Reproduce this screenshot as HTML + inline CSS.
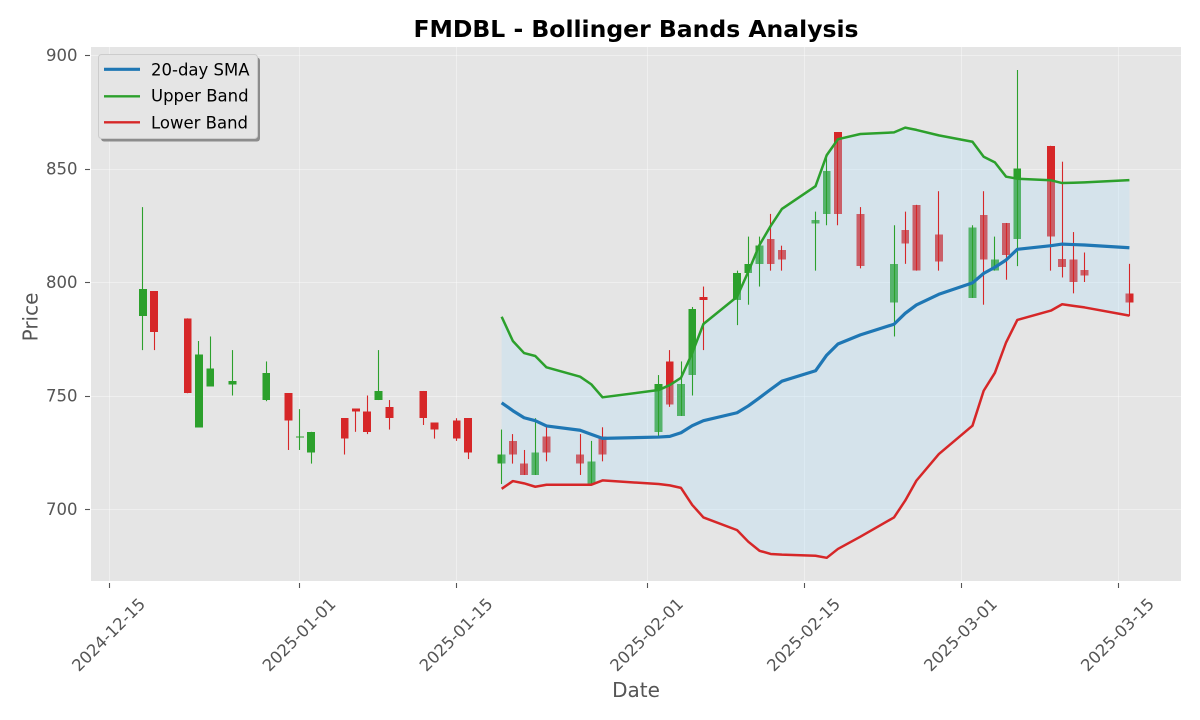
<!DOCTYPE html>
<html lang="en">
<head>
<meta charset="utf-8">
<title>FMDBL - Bollinger Bands Analysis</title>
<style>
html,body{margin:0;padding:0;background:#fff;}
svg{display:block;}
text{font-family:"DejaVu Sans",sans-serif;}
</style>
</head>
<body>
<svg id="chart" xmlns="http://www.w3.org/2000/svg" width="1200" height="720" viewBox="0 0 1200 720">
  <rect x="0" y="0" width="1200" height="720" fill="#ffffff"/>
  <rect x="91" y="47" width="1090" height="534" fill="#e5e5e5"/>
  <g id="grid"></g>
  <g id="bodies"></g>
  <path id="band" fill="rgb(177,222,250)" fill-opacity="0.31" stroke="none"/>
  <g id="wicks"></g>
  <g id="lines"></g>
  <g id="ticks"></g>
  <text x="636" y="37" text-anchor="middle" font-size="23.5" font-weight="bold" fill="#000000">FMDBL - Bollinger Bands Analysis</text>
  <text x="636" y="697" text-anchor="middle" font-size="20" fill="#555555">Date</text>
  <text transform="translate(37.5,317) rotate(-90)" text-anchor="middle" font-size="20" fill="#555555">Price</text>
  <g>
    <rect x="101" y="57.5" width="159" height="84" rx="3" fill="#8c8c8c"/>
    <rect x="98.5" y="54.5" width="159" height="84" rx="3" fill="#e5e5e5" stroke="#cccccc" stroke-width="1"/>
    <line x1="104" y1="69.3" x2="140" y2="69.3" stroke="#1f77b4" stroke-width="3.1"/>
    <text x="151" y="75.5" font-size="16.5" fill="#000000">20-day SMA</text>
    <line x1="104" y1="96.3" x2="140" y2="96.3" stroke="#2ca02c" stroke-width="2.4"/>
    <text x="151" y="101.5" font-size="16.5" fill="#000000">Upper Band</text>
    <line x1="104" y1="122.3" x2="140" y2="122.3" stroke="#d62728" stroke-width="2.4"/>
    <text x="151" y="128.5" font-size="16.5" fill="#000000">Lower Band</text>
  </g>
</svg>
<script>
const dates = ['2024-12-18','2024-12-19','2024-12-22','2024-12-23','2024-12-24','2024-12-26','2024-12-29','2024-12-31','2025-01-01','2025-01-02','2025-01-05','2025-01-06','2025-01-07','2025-01-08','2025-01-09','2025-01-12','2025-01-13','2025-01-15','2025-01-16','2025-01-19','2025-01-20','2025-01-21','2025-01-22','2025-01-23','2025-01-26','2025-01-27','2025-01-28','2025-02-02','2025-02-03','2025-02-04','2025-02-05','2025-02-06','2025-02-09','2025-02-10','2025-02-11','2025-02-12','2025-02-13','2025-02-16','2025-02-17','2025-02-18','2025-02-20','2025-02-23','2025-02-24','2025-02-25','2025-02-27','2025-03-02','2025-03-03','2025-03-04','2025-03-05','2025-03-06','2025-03-09','2025-03-10','2025-03-11','2025-03-12','2025-03-16'];
const opens = [785,796,784,736,754,754.8,748,751,732,725,740,744.2,743,748,745,752,738,739,740,720,730,720,715,732,724,711,732,734,765,741,759,793.4,792,804,808,819,814,825.8,830,866,830,791,823,834,821,793,829.5,805,826,819,860,810.1,810,805.3,795];
const highs = [833,796,784,774,776,770,765,751,744,734,740,744.2,750,770,748,752,738,740,740,735,733,726,740,736,733,730,736,759,770,765,789,798,805,820,820,830,816,831,855.5,866,833,825,831,834,840,825,840,820,826,893.4,860,853,822,813,808];
const lows = [770,770,751,736,754,750,747.5,726,726,720,724,734,733,748,735,737,731,730,722,711,720,715,715,721,715,711,721,732,745,741,750,770,781,790,798,805,805,805,825,825,806,776,808,805,805,793,790,805,801,807,805,802,795,800,785];
const closes = [797,778,751,768,762,756.4,760,739,732,734,731,742.9,734,752,740,740,735,731,725,724,724,715,725,725,720,721,724,755,746,755,788,792,804,808,816,808,810,827.3,849,830,807,808,817,805,809,824,810,810,812,850,820,806.7,800,802.9,791];

const bandDates = ['2025-01-19','2025-01-20','2025-01-21','2025-01-22','2025-01-23','2025-01-26','2025-01-27','2025-01-28','2025-02-02','2025-02-03','2025-02-04','2025-02-05','2025-02-06','2025-02-09','2025-02-10','2025-02-11','2025-02-12','2025-02-13','2025-02-16','2025-02-17','2025-02-18','2025-02-20','2025-02-23','2025-02-24','2025-02-25','2025-02-27','2025-03-02','2025-03-03','2025-03-04','2025-03-05','2025-03-06','2025-03-09','2025-03-10','2025-03-11','2025-03-12','2025-03-16'];
const smaValues = [746.8,743.3,740.2,738.9,736.6,734.7,732.9,731.1,731.7,732.0,733.6,736.7,738.9,742.4,745.4,749.0,752.7,756.3,760.9,767.8,772.7,776.7,781.4,786.2,789.9,794.6,799.6,803.8,806.5,809.7,814.4,816.0,816.7,816.5,816.3,815.1];
const upperValues = [784.7,774.0,768.7,767.4,762.4,758.3,754.9,749.2,752.4,754.6,757.8,768.7,781.5,793.5,804.5,816.3,824.7,832.2,842.2,855.9,862.9,865.2,865.9,868.0,867.0,864.6,861.8,855.2,852.7,846.4,845.5,844.8,843.6,843.7,843.9,844.9];
const lowerValues = [708.9,712.3,711.3,709.8,710.7,710.7,710.7,712.6,711.0,710.4,709.3,701.8,696.3,690.7,685.6,681.6,680.2,679.9,679.4,678.5,682.4,687.8,696.3,703.7,712.5,724.2,736.7,752.1,760.0,773.4,783.3,787.4,790.2,789.5,788.8,785.2];

const xTickLabels = ['2024-12-15','2025-01-01','2025-01-15','2025-02-01','2025-02-15','2025-03-01','2025-03-15'];
const yTickLabels = [700,750,800,850,900];

const NS = 'http://www.w3.org/2000/svg';
const DAY = 86400000;
const origin = Date.parse('2024-12-15T00:00:00Z');
function xScale(dateStr) {
  const days = (Date.parse(dateStr + 'T00:00:00Z') - origin) / DAY;
  return 109.3 + days * 11.21;
}
function yScale(value) {
  return 509 - (value - 700) * 2.27;
}
function mk(tag, attrs, parent) {
  const node = document.createElementNS(NS, tag);
  for (const key in attrs) node.setAttribute(key, attrs[key]);
  parent.appendChild(node);
  return node;
}
function pathFor(xs, ys) {
  return xs.map((d, i) => (i ? 'L' : 'M') + xScale(d).toFixed(2) + ' ' + yScale(ys[i]).toFixed(2)).join(' ');
}

const gridG = document.getElementById('grid');
const ticksG = document.getElementById('ticks');
yTickLabels.forEach(function (v) {
  const y = Math.round(yScale(v)) + 0.5;
  const g = mk('line', {x1: 91, x2: 1181, y1: y, y2: y, stroke: '#ffffff', 'stroke-opacity': 0.4, 'stroke-width': 1}, gridG);
  
  
  const t = mk('line', {x1: 85, x2: 90, y1: y, y2: y, stroke: '#555555', 'stroke-width': 1.1}, ticksG);
  
  
  const l = mk('text', {x: 77.5, y: yScale(v) + 6, 'text-anchor': 'end', 'font-size': 16.5, fill: '#555555'}, ticksG);
  l.textContent = String(v);
  
  
});
xTickLabels.forEach(function (d) {
  const cx = xScale(d);
  const x = Math.floor(cx) + 0.5;
  const g = mk('line', {x1: x, x2: x, y1: 47, y2: 581, stroke: '#ffffff', 'stroke-opacity': 0.4, 'stroke-width': 1}, gridG);
  
  
  const t = mk('line', {x1: x, x2: x, y1: 583, y2: 588, stroke: '#555555', 'stroke-width': 1.1}, ticksG);
  
  
  const l = mk('text', {transform: 'translate(' + (cx - 1).toFixed(2) + ',634.5) rotate(-45)', y: 6, 'text-anchor': 'middle', 'font-size': 16.4, fill: '#555555'}, ticksG);
  l.textContent = d;
  
  
});

const bodiesG = document.getElementById('bodies');
const wicksG = document.getElementById('wicks');
dates.forEach(function (d, i) {
  const up = closes[i] >= opens[i];
  const color = up ? '#2ca02c' : '#d62728';
  const cx = xScale(d);
  const top = yScale(Math.max(opens[i], closes[i]));
  const bottom = yScale(Math.min(opens[i], closes[i]));
  const body = mk('rect', {x: (cx - 3.92).toFixed(2), y: top.toFixed(2), width: 7.85, height: Math.max(bottom - top, 1).toFixed(2), fill: color, 'shape-rendering': 'crispEdges'}, bodiesG);
  
  
  const wx = Math.floor(cx) + 0.5;
  const wick = mk('line', {x1: wx, x2: wx, y1: yScale(highs[i]).toFixed(2), y2: yScale(lows[i]).toFixed(2), stroke: color, 'stroke-width': 1.1}, wicksG);
  
  
});

const bandTop = pathFor(bandDates, upperValues);
const bandBottom = bandDates.slice().reverse().map(function (d, i) {
  return 'L' + xScale(d).toFixed(2) + ' ' + yScale(lowerValues[lowerValues.length - 1 - i]).toFixed(2);
}).join(' ');
document.getElementById('band').setAttribute('d', bandTop + ' ' + bandBottom + ' Z');

const linesG = document.getElementById('lines');
const upperLine = mk('path', {d: pathFor(bandDates, upperValues), fill: 'none', stroke: '#2ca02c', 'stroke-width': 2.5, 'stroke-linejoin': 'round'}, linesG);


const lowerLine = mk('path', {d: pathFor(bandDates, lowerValues), fill: 'none', stroke: '#d62728', 'stroke-width': 2.5, 'stroke-linejoin': 'round'}, linesG);


const smaLine = mk('path', {d: pathFor(bandDates, smaValues), fill: 'none', stroke: '#1f77b4', 'stroke-width': 3.2, 'stroke-linejoin': 'round'}, linesG);


</script>
</body>
</html>
